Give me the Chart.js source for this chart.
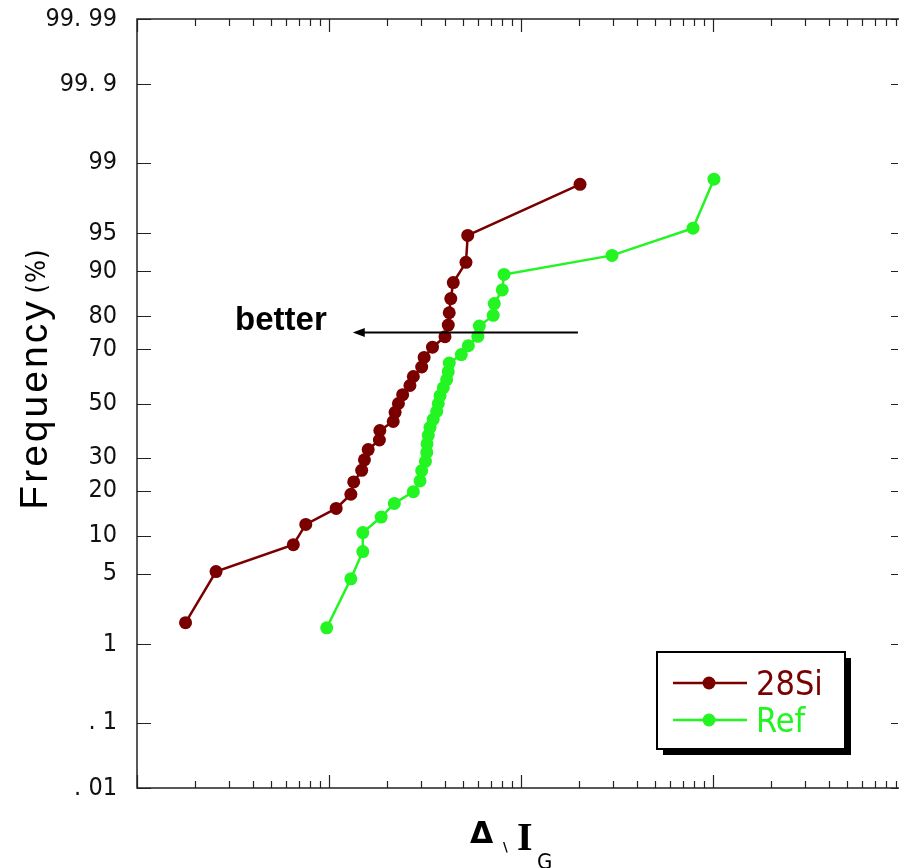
<!DOCTYPE html>
<html>
<head>
<meta charset="utf-8">
<script src="https://cdn.jsdelivr.net/npm/chart.js@4"></script>
<style>
  body { margin: 0; background: #fff; }
  #wrap { width: 899px; height: 868px; }
</style>
</head>
<body>
<div id="wrap"><canvas id="myChart" width="899" height="868"></canvas></div>
<script>
// data (x on log axis, y in cumulative %)
const si28X = [1.79, 2.58, 6.52, 7.57, 10.9, 13.0, 13.45, 14.8, 15.3, 16.0, 18.3, 18.4, 21.6, 22.1, 23.0,
  24.2, 26.4, 27.5, 30.4, 31.3, 34.6, 40.2, 41.8, 42.3, 43.1, 44.4, 51.7, 52.8, 203];
const si28Y = [1.7, 5.2, 8.6, 12.1, 15.5, 19.0, 22.4, 25.9, 29.3, 32.8, 36.2, 39.7, 43.1, 46.6, 50.0,
  53.4, 56.9, 60.3, 63.8, 67.2, 70.7, 74.1, 77.6, 81.0, 84.5, 87.9, 91.4, 94.8, 98.3];

const refX = [9.73, 13.0, 15.0, 15.0, 18.7, 21.9, 27.5, 29.8, 30.4, 31.8, 32.3, 32.4, 32.9, 33.6, 34.9,
  36.4, 37.1, 37.9, 39.4, 41.0, 41.8, 42.3, 48.9, 53.2, 59.6, 60.7, 71.7, 72.6, 79.9, 81.6, 298, 787, 1012];
const refY = [1.5, 4.5, 7.6, 10.6, 13.6, 16.7, 19.7, 22.7, 25.8, 28.8, 31.8, 34.8, 37.9, 40.9, 43.9,
  47.0, 50.0, 53.0, 56.1, 59.1, 62.1, 65.2, 68.2, 71.2, 74.2, 77.3, 80.3, 83.3, 86.4, 89.4, 92.4, 95.5, 98.5];

const yTickProbs = [0.01, 0.1, 1, 5, 10, 20, 30, 50, 70, 80, 90, 95, 99, 99.9, 99.99];
const yTickLabels = ['. 01', '. 1', '1', '5', '10', '20', '30', '50', '70', '80', '90', '95', '99', '99. 9', '99. 99'];

const seriesNames = ['28Si', 'Ref'];
const seriesColors = ['#7a0000', '#22f522'];

// inverse normal cdf (Acklam) for the probability axis
function probit(p) {
  const a = [-3.969683028665376e+01, 2.209460984245205e+02, -2.759285104469687e+02, 1.383577518672690e+02, -3.066479806614716e+01, 2.506628277459239e+00];
  const b = [-5.447609879822406e+01, 1.615858368580409e+02, -1.556989798598866e+02, 6.680131188771972e+01, -1.328068155288572e+01];
  const c = [-7.784894002430293e-03, -3.223964580411365e-01, -2.400758277161838e+00, -2.549732539343734e+00, 4.374664141464968e+00, 2.938163982698783e+00];
  const d = [7.784695709041462e-03, 3.224671290700398e-01, 2.445134137142996e+00, 3.754408661907416e+00];
  const pl = 0.02425, ph = 1 - pl;
  if (p < pl) {
    const q = Math.sqrt(-2 * Math.log(p));
    return (((((c[0]*q+c[1])*q+c[2])*q+c[3])*q+c[4])*q+c[5]) / ((((d[0]*q+d[1])*q+d[2])*q+d[3])*q+1);
  }
  if (p <= ph) {
    const q = p - 0.5, r = q * q;
    return (((((a[0]*r+a[1])*r+a[2])*r+a[3])*r+a[4])*r+a[5])*q / (((((b[0]*r+b[1])*r+b[2])*r+b[3])*r+b[4])*r+1);
  }
  const q = Math.sqrt(-2 * Math.log(1 - p));
  return -(((((c[0]*q+c[1])*q+c[2])*q+c[3])*q+c[4])*q+c[5]) / ((((d[0]*q+d[1])*q+d[2])*q+d[3])*q+1);
}

const toPoints = (xs, ys) => xs.map((x, i) => ({ x: x, y: probit(ys[i] / 100) }));

const narrowFont = '"Liberation Sans Narrow", "DejaVu Sans Condensed", sans-serif';

// frame + inward ticks
const framePlugin = {
  id: 'frame',
  beforeDatasetsDraw(chart) {
    const ctx = chart.ctx, a = chart.chartArea;
    const xs = chart.scales.x, ys = chart.scales.y;
    ctx.save();
    ctx.strokeStyle = '#222';
    ctx.lineWidth = 1.5;
    ctx.beginPath();
    ctx.moveTo(a.right + 2, a.top); ctx.lineTo(a.left, a.top);
    ctx.lineTo(a.left, a.bottom); ctx.lineTo(a.right + 2, a.bottom);
    ctx.stroke();
    ctx.lineWidth = 1.2;
    ctx.beginPath();
    for (let dec = 1; dec <= 1000; dec *= 10) {
      for (let m = 1; m <= 9; m++) {
        const v = m * dec;
        if (v > xs.max) break;
        const px = Math.round(xs.getPixelForValue(v)) + 0.5;
        const len = m === 1 ? 13 : 7;
        ctx.moveTo(px, a.top); ctx.lineTo(px, a.top + len);
        ctx.moveTo(px, a.bottom); ctx.lineTo(px, a.bottom - len);
      }
    }
    yTickProbs.forEach(p => {
      const py = Math.round(ys.getPixelForValue(probit(p / 100))) + 0.5;
      ctx.moveTo(a.left, py); ctx.lineTo(a.left + 14, py);
      ctx.moveTo(a.right, py); ctx.lineTo(a.right - 7, py);
    });
    ctx.stroke();
    ctx.restore();
  },
  afterDraw(chart) {
    const ctx = chart.ctx;
    const xs = chart.scales.x, ys = chart.scales.y;
    ctx.save();

    // arrow "better"
    const ay = ys.getPixelForValue(probit(0.754));
    const ax1 = xs.getPixelForValue(198), ax2 = xs.getPixelForValue(13.3);
    ctx.strokeStyle = '#000'; ctx.fillStyle = '#000'; ctx.lineWidth = 2;
    ctx.beginPath(); ctx.moveTo(ax1, ay); ctx.lineTo(ax2 + 8, ay); ctx.stroke();
    ctx.beginPath(); ctx.moveTo(ax2, ay); ctx.lineTo(ax2 + 12, ay - 4.5); ctx.lineTo(ax2 + 12, ay + 4.5); ctx.closePath(); ctx.fill();
    ctx.font = 'bold 33px "Liberation Sans", Arial, sans-serif';
    ctx.textAlign = 'center'; ctx.textBaseline = 'alphabetic';
    ctx.fillText('better', xs.getPixelForValue(5.62), ys.getPixelForValue(probit(0.792)) + 11);

    // y title
    ctx.save();
    ctx.translate(47, 404); ctx.rotate(-Math.PI / 2);
    ctx.font = '39px "Liberation Sans", Arial, sans-serif';
    ctx.letterSpacing = '3px';
    ctx.fillText('Frequency', 0, 0);
    ctx.restore();
    ctx.save();
    ctx.translate(45, 271); ctx.rotate(-Math.PI / 2);
    ctx.font = '27px ' + narrowFont;
    ctx.letterSpacing = '1px';
    ctx.fillText('(%)', 0, 0);
    ctx.restore();

    // x title
    ctx.textAlign = 'left';
    ctx.font = 'bold 30px "DejaVu Sans", sans-serif';
    ctx.fillText('Δ', 470, 843);
    ctx.font = 'bold 13px "DejaVu Sans", sans-serif';
    ctx.fillText('\\', 503, 851);
    ctx.font = 'bold 40px "Liberation Serif", serif';
    ctx.fillText('I', 517, 850);
    ctx.font = '22px ' + narrowFont;
    ctx.fillText('G', 537, 869);

    // legend box with shadow
    const lx = 657, ly = 652, lw = 188, lh = 97;
    ctx.fillStyle = '#000';
    ctx.fillRect(lx + 6, ly + 6, lw, lh);
    ctx.fillStyle = '#fff';
    ctx.fillRect(lx, ly, lw, lh);
    ctx.strokeStyle = '#000'; ctx.lineWidth = 2;
    ctx.strokeRect(lx, ly, lw, lh);
    chart.data.datasets.forEach((ds, i) => {
      const yy = 683 + i * 37;
      ctx.strokeStyle = ds.borderColor; ctx.lineWidth = 2.5;
      ctx.beginPath(); ctx.moveTo(673, yy); ctx.lineTo(747, yy); ctx.stroke();
      ctx.fillStyle = ds.borderColor;
      ctx.beginPath(); ctx.arc(709, yy, 6.5, 0, Math.PI * 2); ctx.fill();
      ctx.font = '34px ' + narrowFont;
      ctx.textAlign = 'left';
      ctx.fillText(ds.label, 756, yy + 12);
    });
    ctx.restore();
  }
};

const data = {
  datasets: [
    {
      label: seriesNames[0],
      data: toPoints(si28X, si28Y),
      borderColor: seriesColors[0],
      backgroundColor: seriesColors[0],
      borderWidth: 2.5,
      pointRadius: 6.5,
      pointBorderWidth: 0,
      pointHoverRadius: 6.5,
      tension: 0
    },
    {
      label: seriesNames[1],
      data: toPoints(refX, refY),
      borderColor: seriesColors[1],
      backgroundColor: seriesColors[1],
      borderWidth: 2.5,
      pointRadius: 6.5,
      pointBorderWidth: 0,
      pointHoverRadius: 6.5,
      tension: 0
    }
  ]
};

const config = {
  type: 'line',
  data,
  options: {
    responsive: false,
    animation: false,
    layout: { autoPadding: false, padding: { top: 19, right: 1, left: 0, bottom: 0 } },
    plugins: { legend: { display: false }, tooltip: { enabled: false } },
    scales: {
      x: {
        type: 'logarithmic',
        min: 1,
        max: 9200,
        grid: { display: false },
        border: { display: false },
        ticks: { display: false },
        afterFit(scale) {
          scale.height = 80;
          scale.paddingLeft = 0; scale.paddingRight = 0;
        }
      },
      y: {
        type: 'linear',
        min: probit(0.0001),
        max: probit(0.9999),
        grid: { display: false, drawTicks: false },
        border: { display: false },
        afterBuildTicks(scale) {
          scale.ticks = yTickProbs.map(p => ({ value: probit(p / 100) }));
        },
        afterFit(scale) {
          scale.width = 137;
          scale.paddingTop = 0; scale.paddingBottom = 0;
        },
        ticks: {
          padding: 20,
          color: '#111',
          font: { family: narrowFont, size: 25 },
          callback: (value, index) => yTickLabels[index]
        }
      }
    }
  },
  plugins: [framePlugin]
};

const myChart = new Chart(document.getElementById('myChart'), config);
</script>
</body>
</html>
